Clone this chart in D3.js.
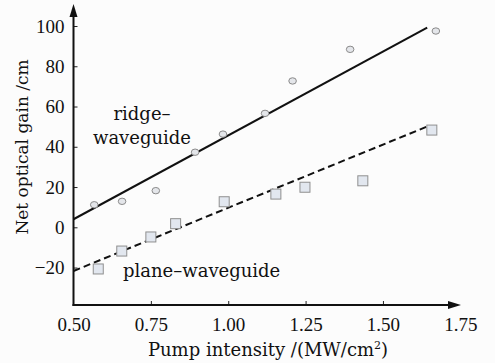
<!DOCTYPE html>
<html>
<head>
<meta charset="utf-8">
<script src="https://cdn.jsdelivr.net/npm/d3@7"></script>
<style>
  html, body { margin: 0; padding: 0; background: #fcfcfc; }
  svg { display: block; }
</style>
</head>
<body>
<svg id="chart" width="495" height="363"></svg>
<script>
// ---- Data ----
const ridgeX = [0.567, 0.657, 0.766, 0.893, 0.983, 1.119, 1.208, 1.394, 1.671];
const ridgeY = [11.2, 12.9, 18.2, 37.3, 46.3, 56.6, 72.7, 88.4, 97.5];
const planeX = [0.580, 0.656, 0.750, 0.830, 0.987, 1.154, 1.248, 1.435, 1.658];
const planeY = [-20.7, -11.8, -4.8, 1.8, 12.7, 16.5, 19.9, 23.1, 48.3];
// fitted lines (endpoints)
const ridgeFitX = [0.5, 1.643];
const ridgeFitY = [4.0, 99.2];
const planeFitX = [0.5, 1.642];
const planeFitY = [-21.7, 50.0];
const xTicks = [0.50, 0.75, 1.00, 1.25, 1.50, 1.75];
const yTicks = [-20, 0, 20, 40, 60, 80, 100];
const xTitle = "Pump intensity /(MW/cm";
const yTitle = "Net optical gain /cm";

// ---- Layout ----
const svg = d3.select("#chart");
const x = d3.scaleLinear().domain([0.5, 1.75]).range([73.5, 460.3]);
const y = d3.scaleLinear().domain([0, 100]).range([227.3, 26]);
const yBottom = -38.6;
const axisX = x(0.5), axisY = y(yBottom);

const tickFont = "'Liberation Serif', 'Times New Roman', serif";
const textFont = "'DejaVu Serif', serif";

// Y axis
const gy = svg.append("g").attr("transform", `translate(${axisX},0)`)
  .call(d3.axisLeft(y).tickValues(yTicks).tickSizeInner(-4).tickSizeOuter(0).tickPadding(9)
    .tickFormat(d => d < 0 ? "\u2212" + Math.abs(d) : d));
gy.select(".domain").remove();
gy.selectAll("line").attr("stroke", "#222").attr("stroke-width", 1);
gy.selectAll("text").attr("font-family", tickFont).attr("font-size", 19).attr("fill", "#111");

// X axis
const gx = svg.append("g").attr("transform", `translate(0,${axisY})`)
  .call(d3.axisBottom(x).tickValues(xTicks).tickSizeInner(-4).tickSizeOuter(0).tickPadding(13)
    .tickFormat(d3.format(".2f")));
gx.select(".domain").remove();
gx.selectAll("line").attr("stroke", "#222").attr("stroke-width", 1);
gx.selectAll(".tick").filter(d => d === 0.5 || d === 1.75).select("line").remove();
gx.selectAll("text").attr("font-family", tickFont).attr("font-size", 19).attr("fill", "#111");

// axis lines with arrows
svg.append("line").attr("x1", axisX).attr("x2", axisX).attr("y1", axisY + 1).attr("y2", 14)
  .attr("stroke", "#111").attr("stroke-width", 2);
svg.append("path").attr("d", `M${axisX},4 L${axisX - 4},17 L${axisX + 4},17 Z`).attr("fill", "#111");
svg.append("line").attr("x1", axisX - 1).attr("x2", 450).attr("y1", axisY).attr("y2", axisY)
  .attr("stroke", "#111").attr("stroke-width", 2);
svg.append("path").attr("d", `M461,${axisY} L448,${axisY - 4} L448,${axisY + 4} Z`).attr("fill", "#111");

// Fit lines
const line = d3.line().x(d => x(d[0])).y(d => y(d[1]));
svg.append("path").datum(ridgeFitX.map((v, i) => [v, ridgeFitY[i]]))
  .attr("d", line).attr("fill", "none").attr("stroke", "#111").attr("stroke-width", 2);
svg.append("path").datum(planeFitX.map((v, i) => [v, planeFitY[i]]))
  .attr("d", line).attr("fill", "none").attr("stroke", "#111").attr("stroke-width", 2)
  .attr("stroke-dasharray", "7,4");

// Points
svg.append("g").selectAll("ellipse").data(ridgeX.map((v, i) => [v, ridgeY[i]])).join("ellipse")
  .attr("cx", d => x(d[0])).attr("cy", d => y(d[1])).attr("rx", 3.8).attr("ry", 3.2)
  .attr("fill", "#e4e6ea").attr("stroke", "#8a8a8a").attr("stroke-width", 1);
svg.append("g").selectAll("rect").data(planeX.map((v, i) => [v, planeY[i]])).join("rect")
  .attr("x", d => x(d[0]) - 5).attr("y", d => y(d[1]) - 5).attr("width", 10).attr("height", 10)
  .attr("fill", "#e2e7ef").attr("stroke", "#8f8f8f").attr("stroke-width", 1);

// Annotations
const ann = svg.append("g").attr("font-family", textFont).attr("font-size", 18).attr("fill", "#111");
ann.append("text").attr("x", 142).attr("y", 120).attr("text-anchor", "middle").text("ridge\u2013");
ann.append("text").attr("x", 142).attr("y", 144).attr("text-anchor", "middle").text("waveguide");
ann.append("text").attr("x", 123).attr("y", 277).text("plane\u2013waveguide");

// Axis titles
const xt = svg.append("text").attr("x", 268).attr("y", 356).attr("text-anchor", "middle")
  .attr("font-family", textFont).attr("font-size", 18).attr("fill", "#111");
xt.append("tspan").text(xTitle);
xt.append("tspan").attr("font-size", 11).attr("dy", -7).text("2");
xt.append("tspan").attr("dy", 7).text(")");

svg.append("text").attr("transform", "translate(28,147) rotate(-90)").attr("text-anchor", "middle")
  .attr("font-family", textFont).attr("font-size", 17).attr("fill", "#111").text(yTitle);
</script>
</body>
</html>
